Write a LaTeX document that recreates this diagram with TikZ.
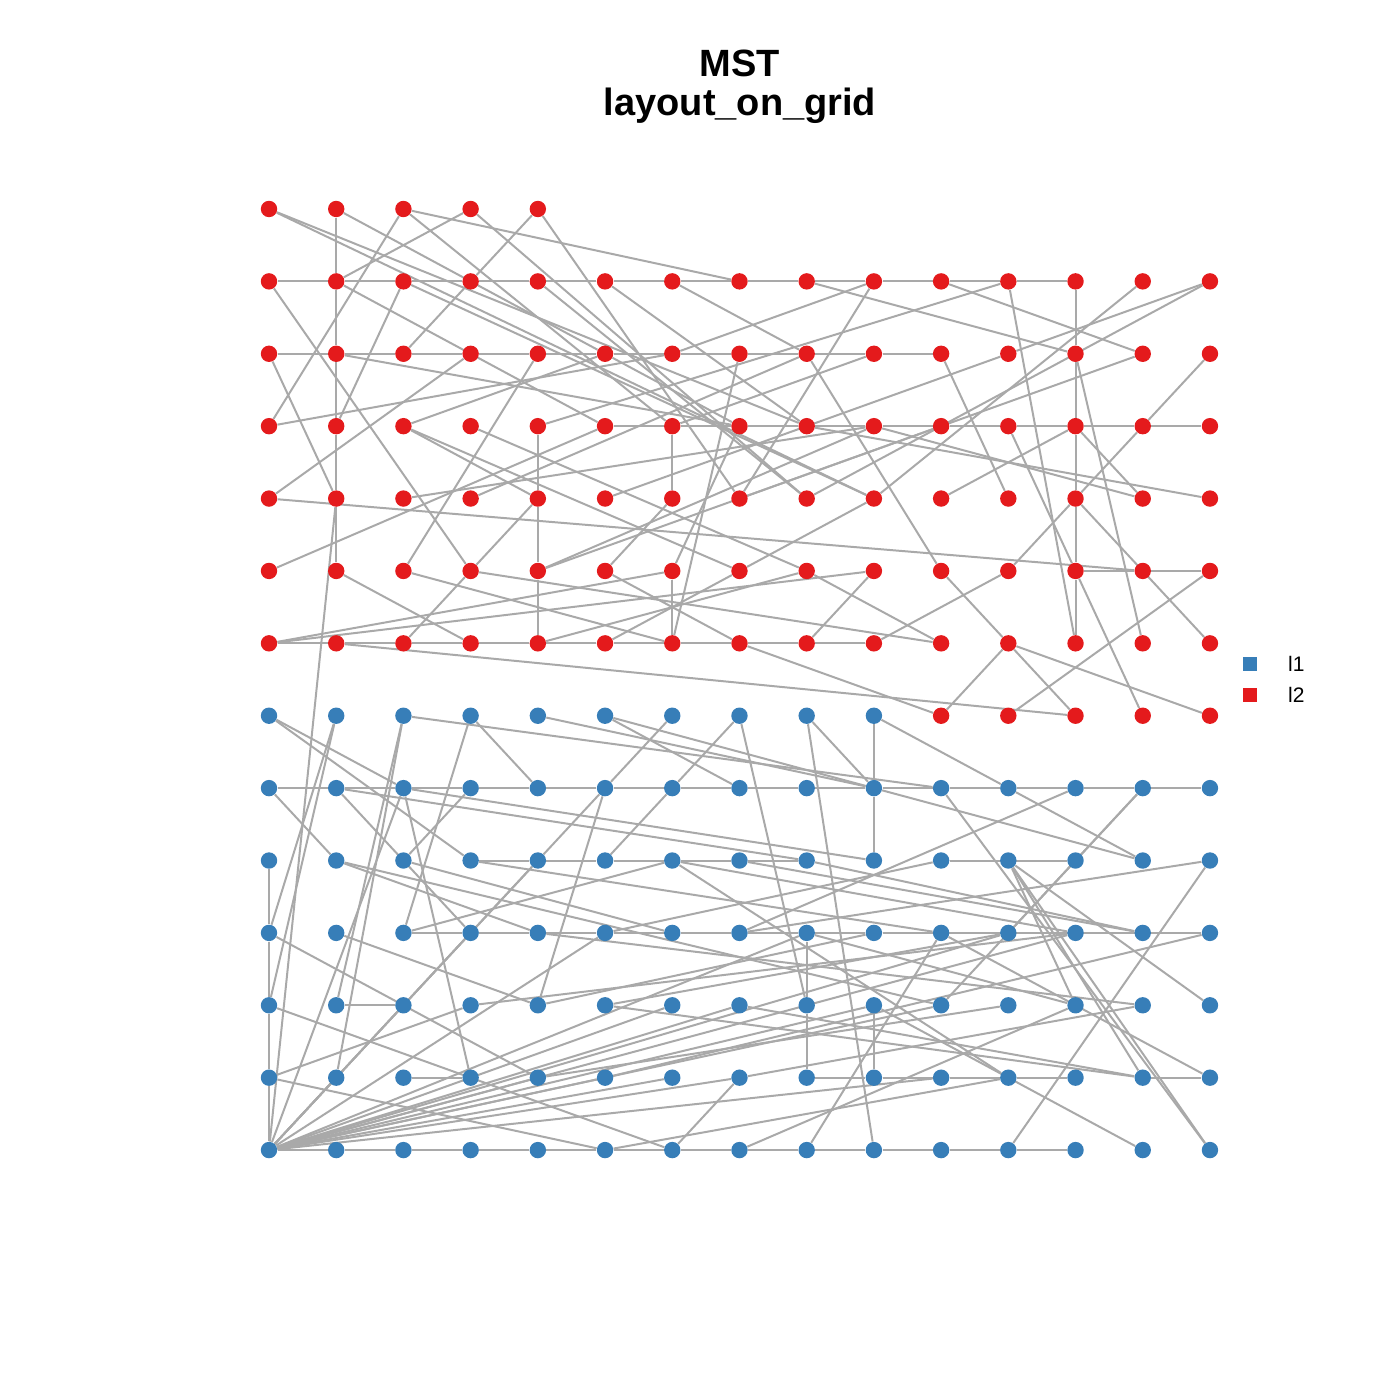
\documentclass[tikz,border=0pt]{standalone}
\usepackage{fontspec}
\setmainfont{Liberation Sans}
\definecolor{rd}{HTML}{E41A1C}
\definecolor{bl}{HTML}{377EB8}
\definecolor{eg}{HTML}{A9A9A9}
\pgfdeclarelayer{bg}\pgfsetlayers{bg,main}
\begin{document}
\begin{tikzpicture}[x=0.5pt,y=-0.5pt,
  vtx/.style={circle,inner sep=0pt,minimum size=8.2pt,draw=none},
  rv/.style={vtx,fill=rd}, bv/.style={vtx,fill=bl},
  ed/.style={draw=eg,line width=1pt},
  ttl/.style={font=\bfseries\fontsize{19}{23}\selectfont,anchor=base},
  lgt/.style={font=\fontsize{10.5}{12}\selectfont,anchor=base west},
  lgb/.style={minimum size=7pt,inner sep=0pt,draw=none}]
\useasboundingbox (0,0) rectangle (1400,1400);
\node[ttl] (t1) at (740,77) {MST};
\node[ttl] (t2) at (740,116) {layout\_on\_grid};
% nodes
\foreach \c in {0,...,4}{\node[rv] (n\c-0) at ({269+67.21*\c},209) {};}
\foreach \r in {1,...,6}{\foreach \c in {0,...,14}{\node[rv] (n\c-\r) at ({269+67.21*\c},{209+72.39*\r}) {};}}
\foreach \c in {10,...,14}{\node[rv] (n\c-7) at ({269+67.21*\c},{209+72.39*7}) {};}
\foreach \c in {0,...,9}{\node[bv] (n\c-7) at ({269+67.21*\c},{209+72.39*7}) {};}
\foreach \r in {8,...,13}{\foreach \c in {0,...,14}{\node[bv] (n\c-\r) at ({269+67.21*\c},{209+72.39*\r}) {};}}
% legend
\node[lgb,fill=bl] (lb1) at (1250,664) {};
\node[lgb,fill=rd] (lb2) at (1250,695) {};
\node[lgt] (lt1) at (1281,671) {l1};
\node[lgt] (lt2) at (1281,702) {l2};
\begin{pgfonlayer}{bg}
% row chains
\foreach \r/\a/\b in {1/0/11,2/0/9,3/5/13,6/0/8,8/0/13,13/0/11,10/2/10,9/3/7,12/8/11}{
  \foreach \i in {\a,...,\b}{\pgfmathtruncatemacro\j{\i+1}\draw[ed] (n\i-\r) -- (n\j-\r);}}
% column chains
\foreach \c/\a/\b in {1/0/4,12/1/5,4/3/5,0/9/12}{
  \foreach \i in {\a,...,\b}{\pgfmathtruncatemacro\j{\i+1}\draw[ed] (n\c-\i) -- (n\c-\j);}}
% red edges
\foreach \a/\b/\c/\d in {6/3/6/4,6/5/6/6,2/0/0/3,3/0/1/1,4/0/3/1,3/1/2/2,0/1/3/5,0/2/1/4,0/3/6/2,3/2/0/4,
 0/4/13/5,0/5/5/3,0/0/8/3,0/0/9/4,1/0/5/2,5/2/7/3,2/0/7/1,2/0/6/3,3/0/8/4,4/0/7/4,1/1/5/3,2/1/1/3,2/1/9/4,
 4/1/8/4,5/1/8/3,6/1/8/2,9/1/7/4,9/1/6/2,8/1/12/2,11/1/12/6,11/1/4/3,13/1/9/4,14/1/11/2,11/2/5/4,14/1/8/4,
 10/1/13/2,13/2/7/4,12/2/13/6,14/2/13/3,13/3/12/4,12/4/11/5,12/4/14/6,4/2/2/5,7/2/6/6,8/2/10/5,10/2/11/4,
 1/2/7/3,1/5/3/6,2/5/6/6,3/5/4/4,3/5/2/6,0/6/6/5,0/6/9/5,1/6/12/7,4/5/9/3,4/5/10/3,5/5/6/4,5/5/7/6,6/5/7/3,
 7/5/9/4,5/6/7/5,4/6/8/5,8/5/10/6,9/5/8/6,10/5/11/6,9/6/11/5,10/7/11/6,7/6/10/7,12/5/13/5,13/5/14/5,
 12/5/13/7,14/5/11/7,11/6/12/7,11/6/14/7,2/3/5/2,2/3/4/4,2/3/7/5,3/3/8/5,2/4/9/3,3/4/8/2,10/4/12/3,
 12/3/13/4,9/3/13/4,8/3/14/4,11/3/12/5,9/2/6/3,3/5/10/6,1/4/0/13}{\draw[ed] (n\a-\b) -- (n\c-\d);}
% blue edges
\foreach \a/\b/\c/\d in {9/7/9/8,9/8/9/9,8/10/8/11,8/11/8/12,9/11/9/12,1/11/2/11,2/12/3/12,13/12/14/12,
 0/7/2/8,0/7/3/9,1/7/0/10,1/7/0/11,2/7/1/11,2/7/1/12,2/7/10/8,3/7/2/10,3/7/4/8,4/7/9/8,5/7/7/8,5/7/9/8,
 6/7/5/8,5/8/4/9,7/7/6/8,6/8/5/9,7/7/8/11,8/7/9/8,8/7/9/13,9/7/11/8,0/8/1/9,1/8/8/9,1/8/3/10,2/8/3/12,
 2/8/9/9,3/8/2/9,11/8/13/9,9/8/13/9,12/8/7/10,13/8/11/10,14/9/11/13,14/9/7/10,14/10/5/12,11/9/14/11,
 11/9/14/13,10/8/14/13,11/9/12/11,13/11/7/12,8/10/12/11,13/13/9/11,0/12/5/13,0/12/3/11,0/10/4/12,
 0/11/6/13,1/9/4/10,1/10/4/11,2/9/6/10,4/12/11/11,4/11/5/8,11/9/13/12,5/11/13/12,2/11/4/9,
 1/9/10/11,2/10/6/9,3/9/10/10,3/11/12/10,4/10/13/11,6/9/11/12,8/9/13/10,9/10/14/10,
 0/13/1/12,0/13/2/8,0/13/2/11,0/13/3/10,0/13/4/9,0/13/5/10,0/13/5/12,0/13/6/12,0/13/7/11,0/13/7/12,
 0/13/8/10,0/13/9/11,0/13/10/11,0/13/11/10,0/13/12/10,0/13/10/12,0/13/4/12,0/13/6/11,
 4/11/9/10,5/10/10/9,5/11/11/10,6/9/12/10,7/9/13/10,7/11/13/12,7/13/12/11,8/13/10/10,10/9/12/9,
 10/10/14/12,10/11/13/8,6/13/7/12,5/13/11/12}{\draw[ed] (n\a-\b) -- (n\c-\d);}
\end{pgfonlayer}
\end{tikzpicture}
\end{document}
